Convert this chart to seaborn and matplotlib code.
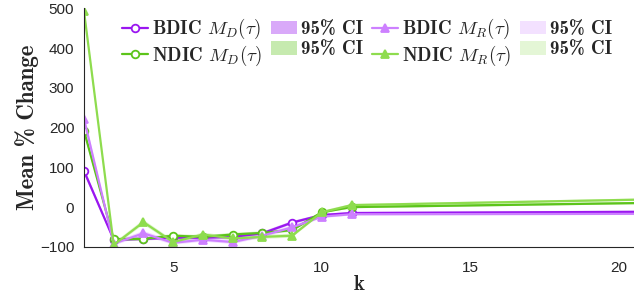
import numpy as np
import pandas as pd
import seaborn as sns
import matplotlib.pyplot as plt

# values (k = 30 is only there to carry the lines past the axis edge)
k = [2, 3, 4, 5, 6, 7, 8, 9, 10, 11, 30]
bdic_md = [91, -82, -80, -77, -77, -75, -66, -39, -20, -15, -9]
ndic_md = [192, -81, -80, -72, -75, -69, -65, -58, -13, 0, 20]
bdic_mr = [222, -92, -66, -90, -82, -88, -72, -51, -24, -18, -16]
ndic_mr = [493, -95, -38, -88, -69, -79, -75, -72, -13, 5, 32]
# half widths of the 95% CI bands
ci_md = [8, 4, 4, 4, 4, 4, 4, 4, 3, 3, 3]
ci_mr = [12, 5, 6, 5, 5, 5, 5, 5, 4, 3, 3]

series = [
    ("BDIC", "M_D", bdic_md, ci_md, "#9A16F0", "o", 0.32),
    ("NDIC", "M_D", ndic_md, ci_md, "#5CC41A", "o", 0.30),
    ("BDIC", "M_R", bdic_mr, ci_mr, "#CD80FF", "^", 0.28),
    ("NDIC", "M_R", ndic_mr, ci_mr, "#8EDC4E", "^", 0.28),
]

sns.set_style("white")
plt.rcParams['font.family'] = ['Liberation Sans', 'DejaVu Sans']
plt.rcParams['mathtext.fontset'] = 'cm'
plt.rcParams['xtick.direction'] = 'in'
plt.rcParams['ytick.direction'] = 'in'

serif_bold = {'family': ['cmb10', 'DejaVu Serif'], 'size': 13.6}

fig = plt.figure(figsize=(6.34, 3.01), dpi=100)
ax = fig.add_axes([0.1325, 0.18, 0.8675, 0.792])

handles = []
labels = []
for grp, m, vals, ci, col, mk, al in series:
    df = pd.DataFrame({"k": k, "v": vals})
    lo = np.array(vals) - np.array(ci)
    hi = np.array(vals) + np.array(ci)
    ax.fill_between(k, lo, hi, color=col, alpha=al, linewidth=0)
    face = "white" if mk == "o" else col
    sns.lineplot(data=df, x="k", y="v", ax=ax, color=col, linewidth=1.6,
                 marker=mk, markersize=5.5, markerfacecolor=face,
                 markeredgecolor=col, markeredgewidth=1.3, errorbar=None)
    line = ax.get_lines()[-1]
    patch = plt.Rectangle((0, 0), 1, 1, facecolor=col, alpha=al + 0.05 if m == "M_D" else al - 0.05,
                          linewidth=0)
    handles.append((line, patch))
    labels.append(r'%s $%s(\tau)$' % (grp, m))

# legend column order: line, CI, line, CI  (rows: BDIC, NDIC)
order_h = [handles[0][0], handles[1][0], handles[0][1], handles[1][1],
           handles[2][0], handles[3][0], handles[2][1], handles[3][1]]
order_l = [labels[0], labels[1], '95% CI', '95% CI',
           labels[2], labels[3], '95% CI', '95% CI']
fig.legend(order_h, order_l, ncol=4, loc='upper left', bbox_to_anchor=(0.172, 0.987),
           frameon=False, prop=serif_bold, handlelength=1.38, handletextpad=0.21,
           columnspacing=0.46, labelspacing=0.12, borderpad=0.2)

ax.set_xlim(2, 20.5)
ax.set_ylim(-100, 500)
ax.set_xticks([5, 10, 15, 20])
ax.set_yticks([-100, 0, 100, 200, 300, 400, 500])
ax.tick_params(labelsize=11, length=3, width=0.8, colors='#262626')
ax.tick_params(axis='y', pad=7)
ax.tick_params(axis='x', pad=10)
ax.set_xlabel('k', fontdict={'family': ['cmb10', 'DejaVu Serif'], 'size': 15}, labelpad=0)
ax.set_ylabel('Mean % Change', fontdict={'family': ['cmb10', 'DejaVu Serif'], 'size': 16.5},
              labelpad=1)
sns.despine(ax=ax)
ax.spines['left'].set_color('#262626')
ax.spines['bottom'].set_color('#262626')

plt.savefig("out.png", dpi=100)
